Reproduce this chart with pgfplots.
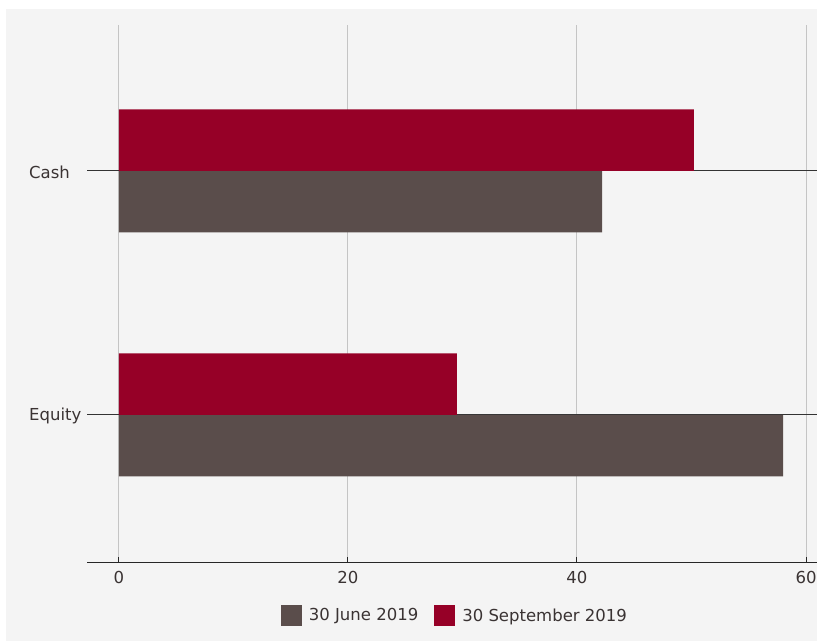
\documentclass[border=0pt]{standalone}
\usepackage{pgfplots}
\pgfplotsset{compat=1.18}
\usepackage{fontspec}
\setmainfont{DejaVu Sans}
\definecolor{bgc}{HTML}{F4F4F4}
\definecolor{junec}{HTML}{5A4D4B}
\definecolor{septc}{HTML}{960027}
\definecolor{txt}{HTML}{3A3333}
\definecolor{gridc}{HTML}{C4C4C4}
\begin{document}
\fontsize{16.5bp}{19bp}\selectfont
\begin{tikzpicture}[x=1bp,y=1bp]
\fill[bgc] (6,0) rectangle (817,632);
\useasboundingbox (0,0) rectangle (817,641);
\begin{axis}[
  at={(87bp,78bp)}, anchor=south west,
  scale only axis, width=730bp, height=538bp,
  xbar, bar width=0.252,
  xmin=-2.79, xmax=60.96,
  ymin=-0.607, ymax=1.598,
  ytick={0,1}, yticklabels={Equity,Cash},
  xtick={0,20,40,60},
  axis x line*=bottom, axis y line*=left,
  y axis line style={draw=none},
  x axis line style={draw=black!85, line width=1bp, -},
  xtick style={draw=black!85, line width=1bp},
  tick align=inside, major tick length=6bp,
  ytick style={draw=none},
  xmajorgrids, ymajorgrids,
  x grid style={gridc, line width=1bp},
  y grid style={black!80, line width=1bp},
  ticklabel style={text=txt, font=\fontsize{16.5bp}{19bp}\selectfont},
  /pgf/number format/assume math mode=true,
  xticklabel style={yshift=-3bp},
  yticklabel style={inner sep=0pt, anchor=west, xshift=-58bp, yshift=-1bp},
  legend style={at={(0.504,-0.0985)}, anchor=center, draw=none, fill=none,
    legend columns=2, font=\fontsize{16.5bp}{19bp}\selectfont, text=txt,
    /tikz/every even column/.append style={column sep=14bp},
    inner sep=0pt},
  legend image code/.code={\fill[#1] (0bp,-10.5bp) rectangle (21bp,10.5bp);},
  legend cell align=left,
]
\addplot[fill=junec, draw=none, bar shift=-0.126] coordinates {(58.0,0) (42.2,1)};
\addlegendentry{\hspace{5bp}30 June 2019}
\addplot[fill=septc, draw=none, bar shift=0.126] coordinates {(29.5,0) (50.2,1)};
\addlegendentry{\hspace{5bp}30 September 2019}
\end{axis}
\end{tikzpicture}
\end{document}
